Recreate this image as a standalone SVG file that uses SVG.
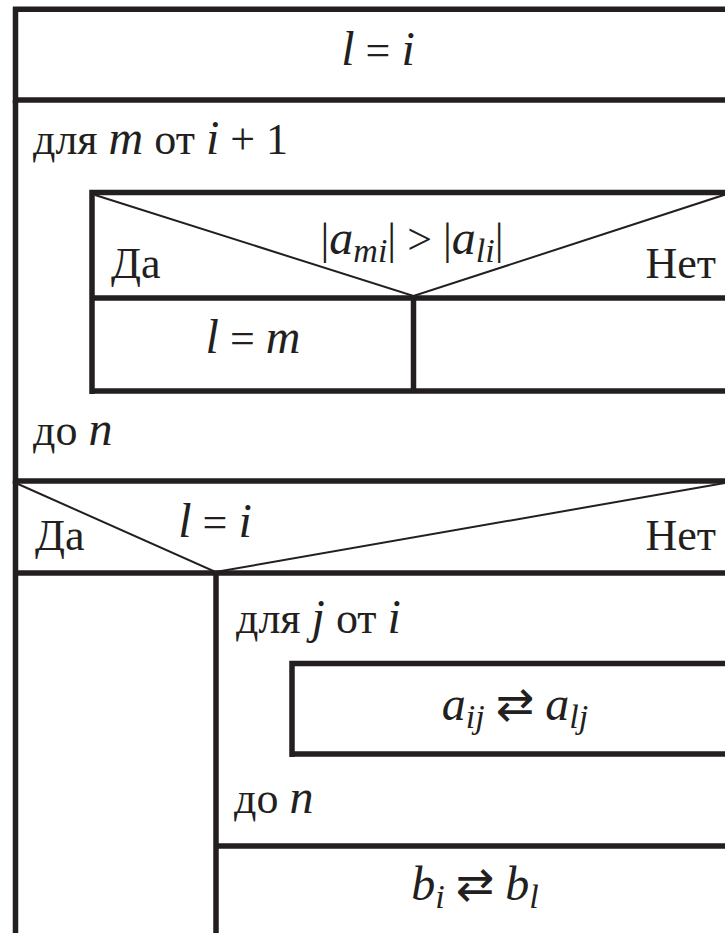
<svg xmlns="http://www.w3.org/2000/svg" width="725" height="933" viewBox="0 0 725 933">
<rect width="725" height="933" fill="#fff"/>
<g id="assign-l-i">
<path stroke="#231f20" stroke-width="5.5" fill="none" d="M13,9.3H725M15.5,7V103M13,100H725"/>
<text x="378" y="65" text-anchor="middle" style="font-family:'Liberation Serif',serif;font-size:44px;fill:#231f20"><tspan style="font-family:'Liberation Serif',serif;font-style:italic;font-size:48px">l</tspan> = <tspan style="font-family:'Liberation Serif',serif;font-style:italic;font-size:48px">i</tspan></text>
</g>
<g id="loop-m">
<path stroke="#231f20" stroke-width="5.5" fill="none" d="M15.5,100V484"/>
<text x="33" y="154" style="font-family:'Liberation Serif',serif;font-size:44px;fill:#231f20">для <tspan style="font-family:'Liberation Serif',serif;font-style:italic;font-size:48px">m</tspan> от <tspan style="font-family:'Liberation Serif',serif;font-style:italic;font-size:48px">i</tspan> + 1</text>
<text x="33" y="445" style="font-family:'Liberation Serif',serif;font-size:44px;fill:#231f20">до <tspan style="font-family:'Liberation Serif',serif;font-style:italic;font-size:48px">n</tspan></text>
</g>
<g id="if-abs">
<path stroke="#231f20" stroke-width="5.5" fill="none" d="M89.3,192.5H725M92,190V394M89.3,391H725M92,298H725"/>
<path stroke="#231f20" stroke-width="2" fill="none" d="M95,195L413.5,296L730,193"/>
<text x="412" y="254" text-anchor="middle" style="font-family:'Liberation Serif',serif;font-size:44px;fill:#231f20">|<tspan style="font-family:'Liberation Serif',serif;font-style:italic;font-size:48px">a</tspan><tspan dy="8" style="font-family:'Liberation Serif',serif;font-style:italic;font-size:34px">mi</tspan><tspan dy="-8" style="font-family:'Liberation Serif',serif">| &gt; |</tspan><tspan style="font-family:'Liberation Serif',serif;font-style:italic;font-size:48px">a</tspan><tspan dy="8" style="font-family:'Liberation Serif',serif;font-style:italic;font-size:34px">li</tspan><tspan dy="-8" style="font-family:'Liberation Serif',serif">|</tspan></text>
<text x="111" y="278" style="font-family:'Liberation Serif',serif;font-size:44px;fill:#231f20">Да</text>
<text x="716" y="278" text-anchor="end" style="font-family:'Liberation Serif',serif;font-size:44px;fill:#231f20">Нет</text>
</g>
<g id="yes-l-m">
<path stroke="#231f20" stroke-width="5.5" fill="none" d="M413.5,298V391"/>
<text x="253" y="353" text-anchor="middle" style="font-family:'Liberation Serif',serif;font-size:44px;fill:#231f20"><tspan style="font-family:'Liberation Serif',serif;font-style:italic;font-size:48px">l</tspan> = <tspan style="font-family:'Liberation Serif',serif;font-style:italic;font-size:48px">m</tspan></text>
</g>
<g id="no-empty"/>
<g id="if-l-i">
<path stroke="#231f20" stroke-width="5.5" fill="none" d="M13,481H725M15.5,481V933M13,573H725"/>
<path stroke="#231f20" stroke-width="2" fill="none" d="M18,484L215.5,572L725,483"/>
<text x="215" y="537" text-anchor="middle" style="font-family:'Liberation Serif',serif;font-size:44px;fill:#231f20"><tspan style="font-family:'Liberation Serif',serif;font-style:italic;font-size:48px">l</tspan> = <tspan style="font-family:'Liberation Serif',serif;font-style:italic;font-size:48px">i</tspan></text>
<text x="35" y="550" style="font-family:'Liberation Serif',serif;font-size:44px;fill:#231f20">Да</text>
<text x="716" y="550" text-anchor="end" style="font-family:'Liberation Serif',serif;font-size:44px;fill:#231f20">Нет</text>
</g>
<g id="loop-j">
<path stroke="#231f20" stroke-width="5.5" fill="none" d="M216,573V933M216,846H725"/>
<text x="236" y="633" style="font-family:'Liberation Serif',serif;font-size:44px;fill:#231f20">для <tspan style="font-family:'Liberation Serif',serif;font-style:italic;font-size:48px">j</tspan> от <tspan style="font-family:'Liberation Serif',serif;font-style:italic;font-size:48px">i</tspan></text>
<text x="234" y="813" style="font-family:'Liberation Serif',serif;font-size:44px;fill:#231f20">до <tspan style="font-family:'Liberation Serif',serif;font-style:italic;font-size:48px">n</tspan></text>
</g>
<g id="swap-a">
<path stroke="#231f20" stroke-width="5.5" fill="none" d="M289.3,663.5H725M292,661V757M289.3,754H725"/>
<text x="515" y="720" text-anchor="middle" style="font-family:'Liberation Serif',serif;font-size:44px;fill:#231f20"><tspan style="font-family:'Liberation Serif',serif;font-style:italic;font-size:48px">a</tspan><tspan dy="8" style="font-family:'Liberation Serif',serif;font-style:italic;font-size:34px">ij</tspan><tspan dy="-8"> </tspan><tspan style="font-family:'DejaVu Sans',sans-serif;font-size:46px">⇄</tspan> <tspan style="font-family:'Liberation Serif',serif;font-style:italic;font-size:48px">a</tspan><tspan dy="8" style="font-family:'Liberation Serif',serif;font-style:italic;font-size:34px">lj</tspan></text>
</g>
<g id="swap-b">
<text x="475" y="900" text-anchor="middle" style="font-family:'Liberation Serif',serif;font-size:44px;fill:#231f20"><tspan style="font-family:'Liberation Serif',serif;font-style:italic;font-size:48px">b</tspan><tspan dy="8" style="font-family:'Liberation Serif',serif;font-style:italic;font-size:34px">i</tspan><tspan dy="-8"> </tspan><tspan style="font-family:'DejaVu Sans',sans-serif;font-size:46px">⇄</tspan> <tspan style="font-family:'Liberation Serif',serif;font-style:italic;font-size:48px">b</tspan><tspan dy="8" style="font-family:'Liberation Serif',serif;font-style:italic;font-size:34px">l</tspan></text>
</g>
<g id="connectors"/>
</svg>
